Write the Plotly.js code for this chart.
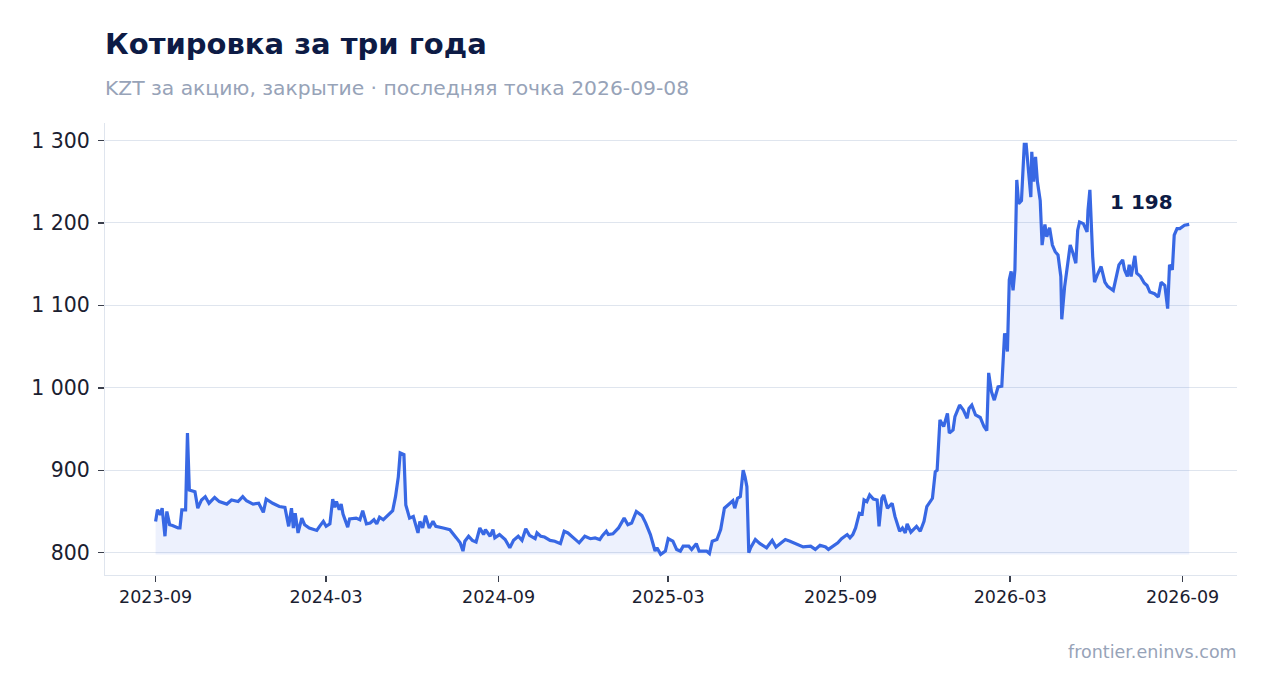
<!DOCTYPE html>
<html>
<head>
<meta charset="utf-8">
<script src="https://cdn.plot.ly/plotly-3.0.1.min.js"></script>
<style>
  html, body { margin: 0; padding: 0; background: #ffffff; }
  #chart { width: 1267px; height: 693px; }
</style>
</head>
<body>
<div id="chart"></div>
<script>
// Closing price, KZT per share
const dates = [
  "2023-09-01","2023-09-03","2023-09-06","2023-09-08","2023-09-11","2023-09-13","2023-09-16","2023-09-19","2023-09-25","2023-09-27",
  "2023-09-29","2023-10-03","2023-10-05","2023-10-07","2023-10-13","2023-10-16","2023-10-20","2023-10-24","2023-10-28","2023-11-03",
  "2023-11-08","2023-11-16","2023-11-21","2023-11-28","2023-12-03","2023-12-07","2023-12-14","2023-12-20","2023-12-25","2023-12-28",
  "2024-01-04","2024-01-11","2024-01-17","2024-01-21","2024-01-24","2024-01-26","2024-01-28","2024-01-31","2024-02-04","2024-02-07",
  "2024-02-12","2024-02-20","2024-02-23","2024-02-27","2024-03-01","2024-03-05","2024-03-08","2024-03-10","2024-03-12","2024-03-15",
  "2024-03-17","2024-03-19","2024-03-24","2024-03-26","2024-04-02","2024-04-06","2024-04-09","2024-04-13","2024-04-17","2024-04-21",
  "2024-04-24","2024-04-27","2024-05-01","2024-05-06","2024-05-11","2024-05-14","2024-05-17","2024-05-19","2024-05-23","2024-05-25",
  "2024-05-29","2024-06-02","2024-06-07","2024-06-09","2024-06-12","2024-06-15","2024-06-19","2024-06-23","2024-06-26","2024-07-04",
  "2024-07-11","2024-07-18","2024-07-22","2024-07-25","2024-07-27","2024-07-31","2024-08-04","2024-08-08","2024-08-12","2024-08-16",
  "2024-08-18","2024-08-23","2024-08-26","2024-08-28","2024-09-02","2024-09-08","2024-09-13","2024-09-17","2024-09-22","2024-09-26",
  "2024-09-30","2024-10-04","2024-10-10","2024-10-12","2024-10-16","2024-10-20","2024-10-26","2024-10-31","2024-11-06","2024-11-10",
  "2024-11-14","2024-11-20","2024-11-26","2024-12-02","2024-12-08","2024-12-13","2024-12-18","2024-12-21","2024-12-25","2024-12-27",
  "2025-01-01","2025-01-07","2025-01-13","2025-01-17","2025-01-21","2025-01-26","2025-02-01","2025-02-05","2025-02-10","2025-02-13",
  "2025-02-15","2025-02-17","2025-02-21","2025-02-26","2025-03-01","2025-03-06","2025-03-10","2025-03-14","2025-03-17","2025-03-23",
  "2025-03-26","2025-03-31","2025-04-03","2025-04-11","2025-04-14","2025-04-17","2025-04-22","2025-04-26","2025-04-30","2025-05-06",
  "2025-05-09","2025-05-11","2025-05-14","2025-05-17","2025-05-20","2025-05-22","2025-05-24","2025-05-26","2025-05-28","2025-06-02",
  "2025-06-07","2025-06-14","2025-06-20","2025-06-24","2025-07-04","2025-07-09","2025-07-16","2025-07-23","2025-07-31","2025-08-05",
  "2025-08-10","2025-08-16","2025-08-19","2025-08-24","2025-08-29","2025-09-02","2025-09-08","2025-09-11","2025-09-14","2025-09-17",
  "2025-09-21","2025-09-24","2025-09-26","2025-09-29","2025-10-02","2025-10-06","2025-10-10","2025-10-12","2025-10-15","2025-10-17",
  "2025-10-21","2025-10-26","2025-10-29","2025-11-03","2025-11-06","2025-11-09","2025-11-11","2025-11-15","2025-11-21","2025-11-25",
  "2025-11-29","2025-12-02","2025-12-08","2025-12-11","2025-12-13","2025-12-16","2025-12-20","2025-12-24","2025-12-26","2025-12-30",
  "2026-01-01","2026-01-06","2026-01-10","2026-01-14","2026-01-16","2026-01-19","2026-01-23","2026-01-28","2026-02-01","2026-02-04",
  "2026-02-06","2026-02-09","2026-02-12","2026-02-16","2026-02-20","2026-02-23","2026-02-26","2026-02-28","2026-03-02","2026-03-04",
  "2026-03-06","2026-03-08","2026-03-10","2026-03-13","2026-03-15","2026-03-16","2026-03-18","2026-03-21","2026-03-23","2026-03-24",
  "2026-03-26","2026-03-28","2026-03-30","2026-04-02","2026-04-04","2026-04-07","2026-04-09","2026-04-12","2026-04-15","2026-04-18",
  "2026-04-21","2026-04-24","2026-04-25","2026-04-28","2026-05-01","2026-05-04","2026-05-07","2026-05-10","2026-05-12","2026-05-14",
  "2026-05-18","2026-05-22","2026-05-23","2026-05-25","2026-05-28","2026-05-30","2026-06-02","2026-06-06","2026-06-10","2026-06-13",
  "2026-06-19","2026-06-21","2026-06-25","2026-06-29","2026-07-01","2026-07-04","2026-07-06","2026-07-08","2026-07-12","2026-07-14",
  "2026-07-18","2026-07-22","2026-07-25","2026-07-28","2026-08-02","2026-08-06","2026-08-09","2026-08-13","2026-08-16","2026-08-18",
  "2026-08-21","2026-08-23","2026-08-26","2026-08-29","2026-09-01","2026-09-03","2026-09-08"
];
const closes = [
  838,852,846,854,820,850,834,833,830,830,
  852,852,945,876,874,854,864,868,860,867,
  862,859,864,862,868,863,859,860,849,865,
  860,856,855,832,854,830,848,824,842,834,
  830,827,832,838,832,835,865,855,862,852,
  859,847,831,841,842,840,851,835,836,840,
  835,843,840,846,851,868,892,921,919,858,
  842,844,824,838,830,845,830,838,832,830,
  828,818,812,802,814,820,815,813,830,822,
  828,820,828,818,822,816,806,815,820,815,
  829,821,817,824,820,819,815,814,811,826,
  824,818,812,820,817,818,816,821,826,822,
  823,830,842,834,836,850,845,836,822,810,
  802,806,798,802,817,814,804,802,808,808,
  804,811,802,802,799,814,816,828,854,860,
  863,854,866,868,900,892,880,800,806,816,
  811,806,815,807,816,814,811,807,808,804,
  809,807,804,808,812,817,822,818,822,830,
  848,847,864,862,870,865,864,832,866,870,
  854,860,844,826,830,824,835,825,832,826,
  838,856,866,898,900,961,953,969,945,949,
  965,979,973,963,975,979,967,964,953,948,
  1018,995,985,1001,1002,1066,1044,1131,1141,1118,
  1143,1252,1223,1227,1276,1295,1295,1260,1231,1286,
  1250,1280,1250,1227,1173,1198,1183,1194,1173,1165,
  1161,1135,1083,1122,1147,1173,1163,1151,1191,1201,
  1199,1189,1215,1240,1159,1128,1137,1147,1128,1123,
  1118,1128,1149,1155,1143,1135,1149,1135,1160,1139,
  1135,1127,1124,1116,1114,1110,1128,1124,1096,1149,
  1143,1185,1193,1193,1195,1197,1198
];
const lastLabel = "1 198";

const titleText = "Котировка за три года";
const subtitleText = "KZT за акцию, закрытие · последняя точка 2026-09-08";
const sourceText = "frontier.eninvs.com";

const lineColor = "#3868e4";
const floorVal = Math.min.apply(null, closes);
const floor = dates.map(() => floorVal);

const traces = [
  {
    x: dates, y: floor, type: "scatter", mode: "lines",
    line: {width: 0, color: "rgba(0,0,0,0)"}, hoverinfo: "skip", showlegend: false
  },
  {
    x: dates, y: closes, type: "scatter", mode: "lines",
    line: {color: lineColor, width: 3.2},
    fill: "tonexty", fillcolor: "rgba(56,104,228,0.09)",
    showlegend: false
  }
];

const font = "DejaVu Sans, sans-serif";
const layout = {
  width: 1267, height: 693,
  margin: {l: 105, r: 30, t: 123, b: 118},
  paper_bgcolor: "#ffffff", plot_bgcolor: "#ffffff",
  separators: ". ",
  font: {family: font, color: "#1a2030"},
  title: {
    text: "<b>" + titleText + "</b>",
    x: 105/1267, xref: "container", xanchor: "left",
    y: 1 - 44/693, yref: "container", yanchor: "middle",
    font: {family: font, size: 29, color: "#0d1b45"}
  },
  xaxis: {
    type: "date",
    range: ["2023-07-09", "2026-10-29"],
    tick0: "2023-09-01", dtick: "M6", tickformat: "%Y-%m",
    showgrid: false, zeroline: false,
    showline: true, linecolor: "#dfe5ee", linewidth: 1,
    ticks: "outside", ticklen: 6, tickcolor: "#3a3f4c", tickwidth: 1.5,
    tickfont: {family: font, size: 17.5, color: "#1a2030"}
  },
  yaxis: {
    range: [773, 1321], dtick: 100, tick0: 0,
    tickformat: ",d",
    showgrid: true, gridcolor: "#dfe5ee", gridwidth: 1.2,
    zeroline: false,
    showline: true, linecolor: "#dfe5ee", linewidth: 1,
    ticks: "outside", ticklen: 6, tickcolor: "#3a3f4c", tickwidth: 1.5,
    ticklabelstandoff: 4,
    tickfont: {family: font, size: 20.5, color: "#1a2030"}
  },
  annotations: [
    {
      xref: "paper", yref: "paper", x: 0, y: 1 + 35/452,
      xanchor: "left", yanchor: "middle", showarrow: false, xshift: -2,
      text: subtitleText,
      font: {family: font, size: 20.3, color: "#97a3b8"}
    },
    {
      xref: "paper", yref: "paper", x: 1, y: -77/452,
      xanchor: "right", yanchor: "middle", showarrow: false, xshift: 2,
      text: sourceText,
      font: {family: font, size: 17.5, color: "#97a3b8"}
    },
    {
      x: dates[dates.length - 1], y: closes[closes.length - 1],
      xref: "x", yref: "y", showarrow: false,
      xanchor: "right", yanchor: "middle", xshift: -14, yshift: 22,
      text: "<b>" + lastLabel + "</b>",
      font: {family: font, size: 20, color: "#0d1b45"}
    }
  ]
};

Plotly.newPlot("chart", traces, layout, {displayModeBar: false, staticPlot: true});
</script>
</body>
</html>
